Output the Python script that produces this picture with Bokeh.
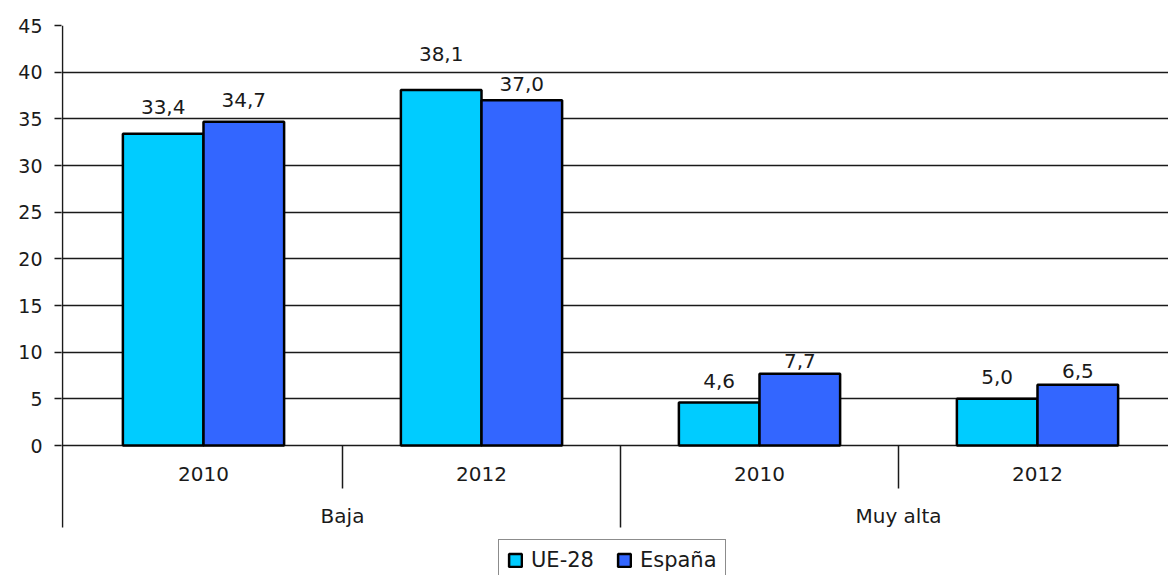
from bokeh.plotting import figure
from bokeh.models import ColumnDataSource, FixedTicker, Legend, LegendItem, Range1d
from bokeh.core.properties import value
from bokeh.embed import file_html
from bokeh.resources import INLINE

# ---------------- data ----------------
groups = ["Baja", "Muy alta"]
years = ["2010", "2012", "2010", "2012"]
ue28 = [33.4, 38.1, 4.6, 5.0]
espana = [34.7, 37.0, 7.7, 6.5]
y_ticks = [0, 5, 10, 15, 20, 25, 30, 35, 40, 45]
series_names = ["UE-28", "España"]

# ---------------- style ----------------
ue_color = "#00CCFF"
es_color = "#3366FF"
FONT = "DejaVu Sans"
ue_label_dy = [27, 36, 22, 22]   # px above bar top (label centre)
es_label_dy = [22, 16, 13, 14]

W, H = 1168, 575
ML, MT = 61, 25
frame_h = H - MT
frame_w = W - ML
px_unit_x = 278.0
x_start = -3.0 / px_unit_x
x_end = x_start + frame_w / px_unit_x
px_unit_y = 420.0 / 45.0
y_end = 45.0
y_start = y_end - frame_h / px_unit_y

p = figure(width=W, height=H, output_backend="svg", toolbar_location=None,
           x_range=Range1d(x_start, x_end), y_range=Range1d(y_start, y_end),
           x_axis_location=None, min_border_left=ML, min_border_top=MT,
           min_border_right=0, min_border_bottom=0)
p.outline_line_color = None
p.xgrid.visible = False
p.ygrid.ticker = FixedTicker(ticks=y_ticks)
p.ygrid.grid_line_color = "#1a1a1a"
p.ygrid.grid_line_width = 1.4

ax = p.yaxis[0]
ax.ticker = FixedTicker(ticks=y_ticks)
ax.axis_line_color = None
ax.major_tick_out = 7
ax.major_tick_in = 0
ax.major_tick_line_color = "#1a1a1a"
ax.major_tick_line_width = 1.4
ax.minor_tick_line_color = None
ax.major_label_text_font = FONT
ax.major_label_text_font_size = "19px"
ax.major_label_text_color = "#1a1a1a"
ax.major_label_standoff = 12

n = len(ue28)
centers = [i + 0.5 for i in range(n)]
bw = 0.29
src = ColumnDataSource(dict(
    xu=[c - bw / 2 for c in centers],
    xe=[c + bw / 2 for c in centers],
    ue=ue28, es=espana,
    lu=[f"{v:.1f}".replace(".", ",") for v in ue28],
    le=[f"{v:.1f}".replace(".", ",") for v in espana],
    yu=[v + d / px_unit_y for v, d in zip(ue28, ue_label_dy)],
    ye=[v + d / px_unit_y for v, d in zip(espana, es_label_dy)],
))

r_ue = p.vbar(x="xu", top="ue", bottom=0, width=bw, source=src,
              fill_color=ue_color, line_color="black", line_width=2.5)
r_es = p.vbar(x="xe", top="es", bottom=0, width=bw, source=src,
              fill_color=es_color, line_color="black", line_width=2.5)

p.text(x="xu", y="yu", text="lu", source=src, text_align="center",
       text_baseline="middle", text_font=value(FONT), text_font_size="20px",
       text_color="#1a1a1a")
p.text(x="xe", y="ye", text="le", source=src, text_align="center",
       text_baseline="middle", text_font=value(FONT), text_font_size="20px",
       text_color="#1a1a1a")

# category axis (two levels) drawn inside extended frame
y_year = -28 / px_unit_y
y_group = -70 / px_unit_y
y_short = -43 / px_unit_y
y_long = -82 / px_unit_y
p.text(x=centers, y=[y_year] * n, text=years, text_align="center",
       text_baseline="middle", text_font=value(FONT), text_font_size="20px",
       text_color="#1a1a1a")
gcenters = [2 * g + 1 for g in range(len(groups))]
p.text(x=gcenters, y=[y_group] * len(groups), text=groups, text_align="center",
       text_baseline="middle", text_font=value(FONT), text_font_size="20px",
       text_color="#1a1a1a")
# separators
p.segment(x0=[1, 3], y0=[0, 0], x1=[1, 3], y1=[y_short, y_short],
          line_color="#1a1a1a", line_width=1.5)
p.segment(x0=[2], y0=[0], x1=[2], y1=[y_long], line_color="#1a1a1a", line_width=1.5)
# left axis line
xl = x_start + 1.0 / px_unit_x
p.segment(x0=[xl], y0=[45], x1=[xl], y1=[y_long], line_color="#1a1a1a", line_width=1.5)

legend = Legend(items=[LegendItem(label=series_names[0], renderers=[r_ue]),
                       LegendItem(label=series_names[1], renderers=[r_es])],
                orientation="horizontal", location=(437, -6))
legend.label_text_font = FONT
legend.label_text_font_size = "21px"
legend.label_text_color = "#1a1a1a"
legend.label_text_baseline = "middle"
legend.glyph_width = 16
legend.glyph_height = 16
legend.label_standoff = 8
legend.spacing = 22
legend.padding = 8
legend.margin = 0
legend.label_height = 16
legend.border_line_color = "#1a1a1a"
legend.border_line_width = 1.5
legend.background_fill_alpha = 1.0
p.add_layout(legend)

open("out.html", "w").write(file_html(p, INLINE))
